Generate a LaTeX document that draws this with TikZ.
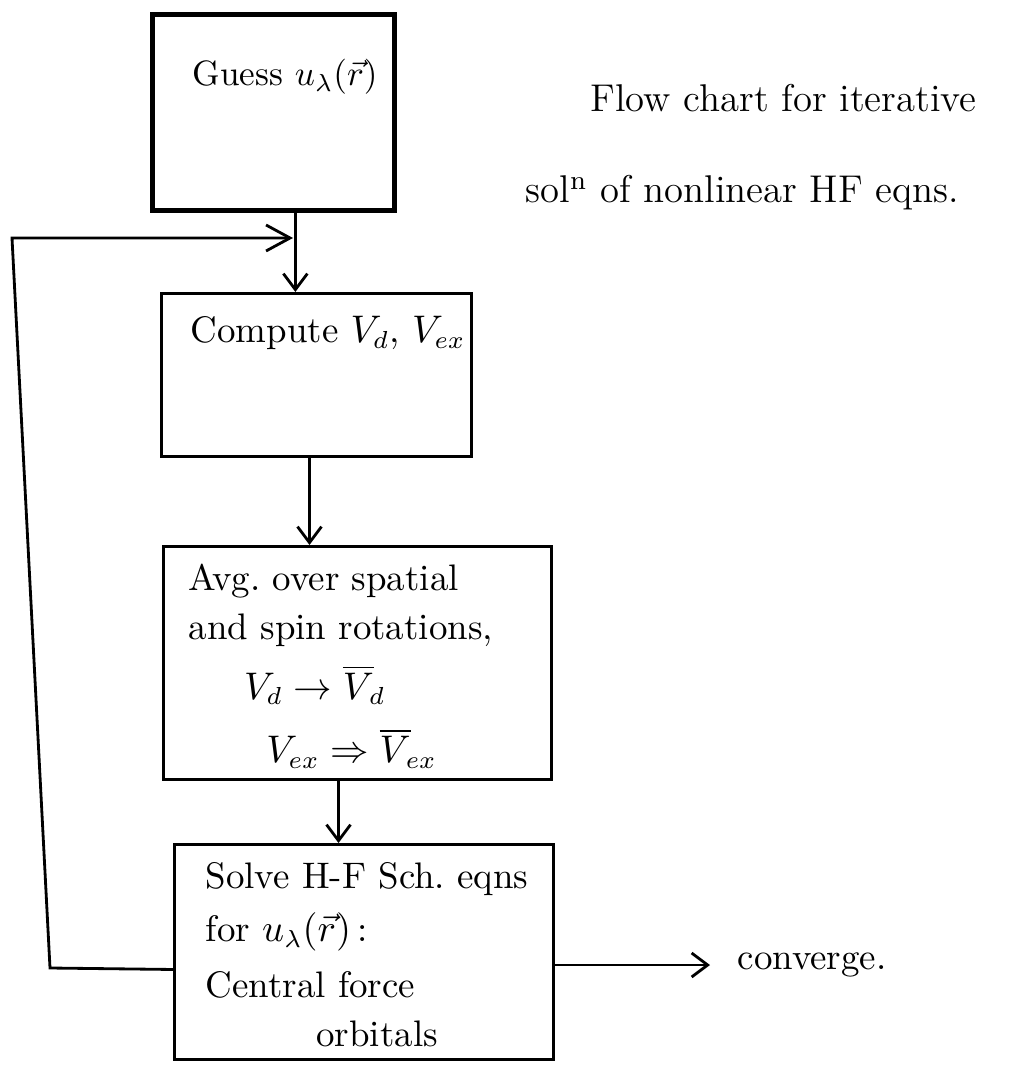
\documentclass[tikz,border=0pt]{standalone}
\usepackage{amsmath,amssymb}
\usetikzlibrary{positioning}
\usetikzlibrary{arrows.meta}

\begin{document}
\begin{tikzpicture}[x=0.01cm, y=-0.01cm,
    box/.style={draw, line width=0.8pt, anchor=north west, inner sep=0pt},
    txt/.style={anchor=base west, align=left, inner sep=0pt,
      font=\fontsize{10.5}{14}\selectfont},
    flow/.style={line width=0.8pt, -{Straight Barb[length=1.6mm, width=2.4mm]}}]
  \useasboundingbox (0,0) rectangle (1013,1065);

  % Boxes
  \node[box, line width=1.3pt, minimum width=2.42cm, minimum height=1.96cm] (guess) at (150,12) {};
  \node[box, minimum width=3.10cm, minimum height=1.63cm] (compute) at (160,292) {};
  \node[box, minimum width=3.88cm, minimum height=2.33cm] (avg) at (162,545) {};
  \node[box, minimum width=3.79cm, minimum height=2.15cm] (solve) at (173,843) {};

  % Texts in the boxes
  \node[txt, font=\fontsize{10}{13}\selectfont] (guesstxt) at (192,86) {Guess $u_\lambda(\vec{r})$};
  \node[txt] (computetxt) at (190,343) {Compute $V_d$, $V_{ex}$};
  \node[txt, anchor=north west] (avgtxt) at (188,563)
    {Avg.\ over spatial\\
     and spin rotations,\\[3pt]
     \hspace*{1.5em}$V_d \to \overline{V}_{\!d}$\\[4pt]
     \hspace*{2.1em}$V_{ex} \Rightarrow \overline{V}_{\!ex}$};
  \node[txt, anchor=north west] (solvetxt) at (205,862)
    {Solve H-F Sch.\ eqns\\[1pt]
     for $u_\lambda(\vec{r})$\,:\\[2pt]
     Central force\\
     \hspace*{3.0em}orbitals};

  % Title
  \node[txt, font=\fontsize{11}{14}\selectfont] (title1) at (590,112) {Flow chart for iterative};
  \node[txt, font=\fontsize{11}{14}\selectfont] (title2) at (525,203) {sol\textsuperscript{n} of nonlinear HF eqns.};

  % Flow
  \draw[flow] ([xshift=0.22cm]guess.south) -- ([xshift=0.22cm]guess.south |- compute.north);
  \draw[flow] ([xshift=-0.07cm]compute.south) -- ([xshift=-0.07cm]compute.south |- avg.north);
  \draw[flow] ([xshift=-0.19cm]avg.south) -- ([xshift=-0.19cm]avg.south |- solve.north);

  % Exit
  \node[txt, anchor=west] (conv) at (737,965) {converge.};
  \draw[flow, shorten >=0.27cm] (solve.east |- conv.west) -- (conv.west);

  % Feedback loop
  \coordinate (join) at (293,238);
  \draw[flow, -{Straight Barb[length=2.4mm, width=2.6mm]}]
    ([yshift=-0.175cm]solve.west) -- (50,968) -- (12,238) -- (join);
\end{tikzpicture}
\end{document}
